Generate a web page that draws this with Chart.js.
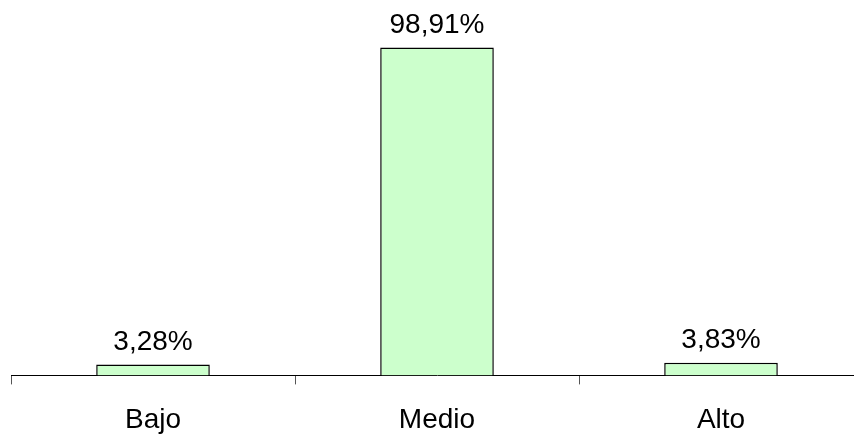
<!DOCTYPE html>
<html>
<head>
<meta charset="utf-8">
<script src="https://cdn.jsdelivr.net/npm/chart.js@4"></script>
<style>
  html, body { margin: 0; padding: 0; background: #fff; overflow: hidden; }
  #wrap { width: 854px; height: 437px; overflow: hidden; }
  #box { width: 874px; height: 460px; }
</style>
</head>
<body>
<div id="wrap"><div id="box"><canvas id="chart"></canvas></div></div>
<script>
// categories and values (percent)
const categories = ['Bajo', 'Medio', 'Alto'];
const values = [3.28, 98.91, 3.83];
const valueLabels = ['3,28%', '98,91%', '3,83%'];

const FONT = 'Arial, "Liberation Sans", sans-serif';

// draws the value text above each bar
const barLabels = {
    id: 'barLabels',
    afterDatasetsDraw(chart) {
        const ctx = chart.ctx;
        const meta = chart.getDatasetMeta(0);
        ctx.save();
        ctx.font = '28px ' + FONT;
        ctx.fillStyle = '#000';
        ctx.textAlign = 'center';
        ctx.textBaseline = 'alphabetic';
        meta.data.forEach((bar, i) => {
            ctx.fillText(valueLabels[i], bar.x, bar.y - 15);
        });
        ctx.restore();
    }
};

new Chart(document.getElementById('chart'), {
    type: 'bar',
    data: {
        labels: categories,
        datasets: [{
            data: values,
            backgroundColor: '#CCFFCC',
            borderColor: '#000000',
            borderWidth: 1.5,
            borderSkipped: 'bottom',
            barPercentage: 0.8,
            categoryPercentage: 0.5
        }]
    },
    options: {
        responsive: true,
        maintainAspectRatio: false,
        animation: false,
        layout: { padding: { left: 11, right: 11, top: 44, bottom: 4 } },
        plugins: {
            legend: { display: false },
            tooltip: { enabled: false }
        },
        scales: {
            x: {
                grid: {
                    display: true,
                    offset: true,
                    drawOnChartArea: false,
                    tickLength: 9,
                    color: '#555'
                },
                border: { display: true, color: '#000', width: 1 },
                ticks: {
                    color: '#000',
                    padding: 19,
                    font: { family: FONT, size: 28 }
                }
            },
            y: {
                display: false,
                min: 0,
                max: 100
            }
        }
    },
    plugins: [barLabels]
});
</script>
</body>
</html>
